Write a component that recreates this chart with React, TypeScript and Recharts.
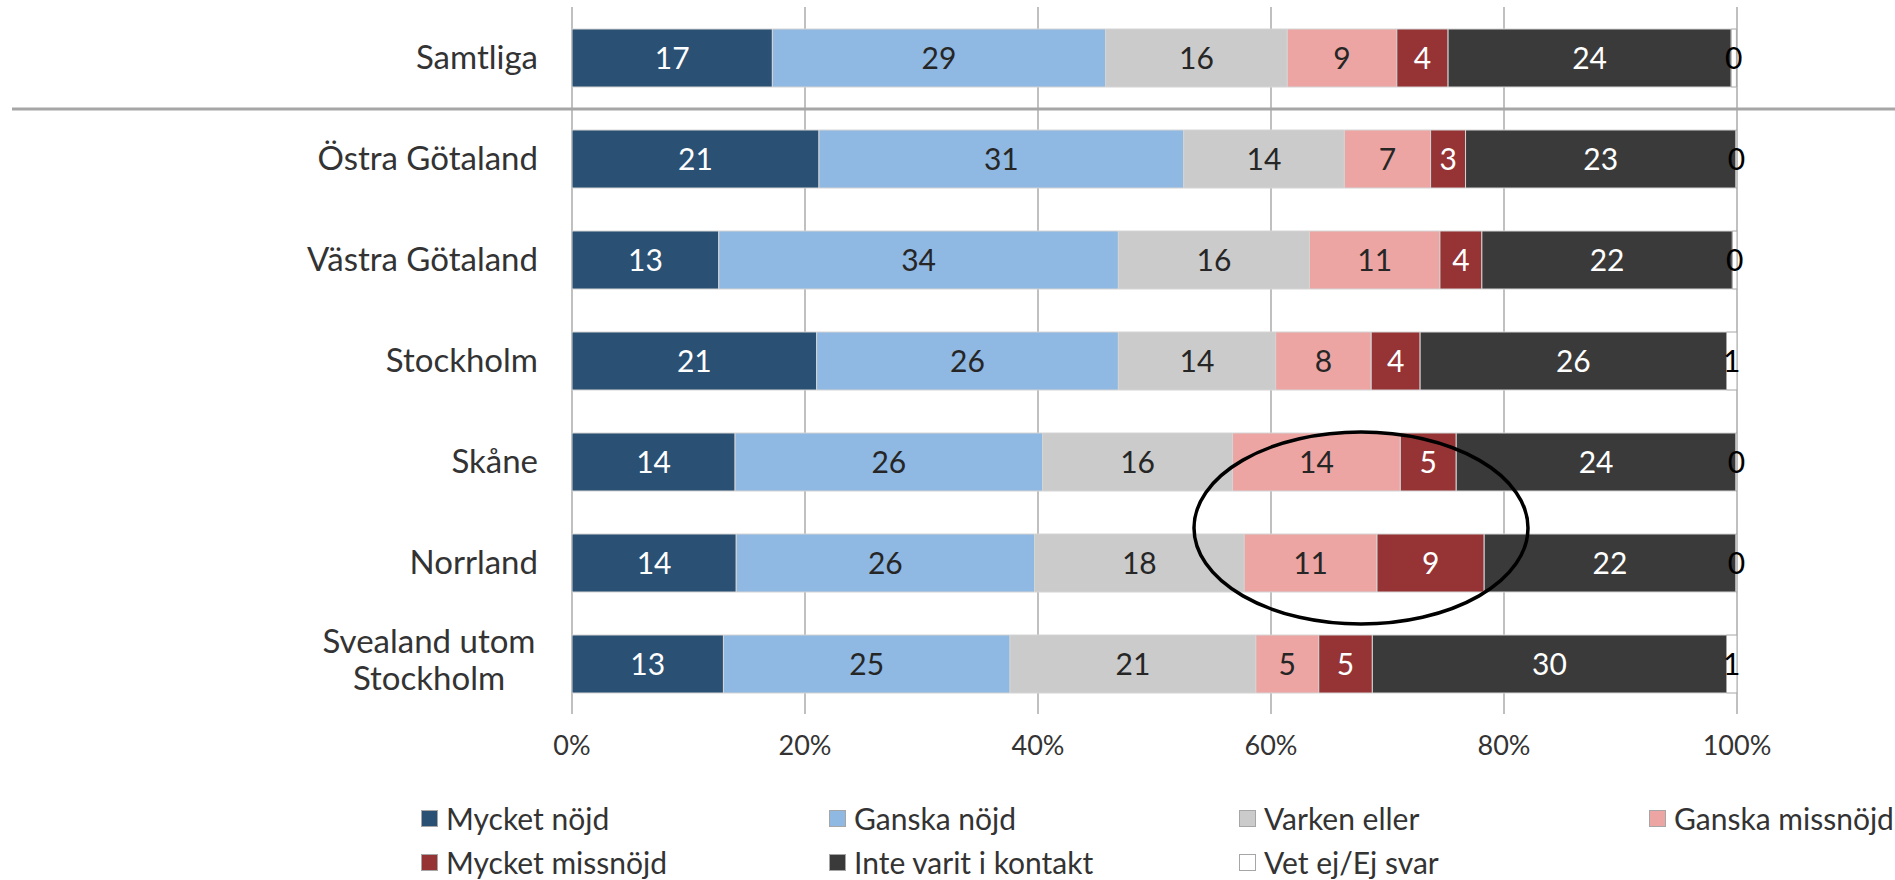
import React from "react";
import { BarChart, Bar, XAxis, YAxis, CartesianGrid, LabelList } from "recharts";

// andel i procent per region (avläst ur originalet, etiketter avrundas)
const regions = [
  "Samtliga",
  "Östra Götaland",
  "Västra Götaland",
  "Stockholm",
  "Skåne",
  "Norrland",
  "Svealand utom Stockholm",
];
const mycketNojd = [17.2, 21.2, 12.6, 21.0, 14.0, 14.1, 13.0];
const ganskaNojd = [28.6, 31.3, 34.3, 25.9, 26.4, 25.6, 24.6];
const varkenEller = [15.6, 13.8, 16.4, 13.5, 16.3, 18.0, 21.1];
const ganskaMissnojd = [9.4, 7.4, 11.2, 8.2, 14.4, 11.4, 5.4];
const mycketMissnojd = [4.4, 3.0, 3.6, 4.2, 4.8, 9.2, 4.6];
const inteKontakt = [24.3, 23.2, 21.5, 26.3, 24.0, 21.6, 30.4];
const vetEj = [0.45, 0.1, 0.4, 0.9, 0.1, 0.1, 0.9];

const xTicks = [0, 20, 40, 60, 80, 100];

const series = [
  { key: "mn", name: "Mycket nöjd", values: mycketNojd, color: "#2a5073", text: "#ffffff" },
  { key: "gn", name: "Ganska nöjd", values: ganskaNojd, color: "#8fb8e2", text: "#262626" },
  { key: "ve", name: "Varken eller", values: varkenEller, color: "#cbcbcb", text: "#262626" },
  { key: "gm", name: "Ganska missnöjd", values: ganskaMissnojd, color: "#eca5a3", text: "#262626" },
  { key: "mm", name: "Mycket missnöjd", values: mycketMissnojd, color: "#953335", text: "#ffffff" },
  { key: "ik", name: "Inte varit i kontakt", values: inteKontakt, color: "#3a3a3a", text: "#ffffff" },
  { key: "ve2", name: "Vet ej/Ej svar", values: vetEj, color: "#ffffff", text: "#000000" },
];

const data = regions.map((name, i) => {
  const row: Record<string, string | number> = { name };
  series.forEach((s) => (row[s.key] = s.values[i]));
  return row;
});

const FONT = "Lato, 'Open Sans', sans-serif";
const legendCols = [421, 829, 1239, 1649];
const legendRows = [818, 862];

function RegionTick({ y, payload }: any) {
  const label: string = payload.value;
  if (label.length > 18) {
    const idx = label.lastIndexOf(" ");
    const lines = [label.slice(0, idx), label.slice(idx + 1)];
    return (
      <g>
        {lines.map((line, i) => (
          <text
            key={line}
            x={429}
            y={y - 22 + i * 37}
            dy="0.35em"
            textAnchor="middle"
            fontSize={33}
            fontFamily={FONT}
            fill="#333"
          >
            {line}
          </text>
        ))}
      </g>
    );
  }
  return (
    <text x={538} y={y} dy="0.35em" textAnchor="end" fontSize={33} fontFamily={FONT} fill="#333">
      {label}
    </text>
  );
}

export default function App() {
  return (
    <div style={{ position: "absolute", left: 0, top: 0, width: 1895, height: 880, background: "#fff", overflow: "hidden" }}>
      <BarChart
        width={1895}
        height={880}
        data={data}
        layout="vertical"
        margin={{ top: 7, right: 158, left: 12, bottom: 126 }}
        barSize={58}
      >
        <CartesianGrid horizontal={false} stroke="#c0c0c0" strokeWidth={2} />
        <XAxis
          type="number"
          domain={[0, 100]}
          allowDataOverflow
          ticks={xTicks}
          tickFormatter={(v) => `${v}%`}
          axisLine={false}
          tickLine={false}
          tickMargin={16}
          height={40}
          tick={{ fontSize: 27, fill: "#333", fontFamily: FONT }}
        />
        <YAxis
          type="category"
          dataKey="name"
          width={560}
          axisLine={false}
          tickLine={false}
          interval={0}
          tick={<RegionTick />}
        />
        {series.map((s) => (
          <Bar
            key={s.key}
            dataKey={s.key}
            name={s.name}
            stackId="a"
            fill={s.color}
            stroke={s.key === "ve2" ? "#a6a6a6" : "#d4d4d4"}
            strokeWidth={1}
            isAnimationActive={false}
          >
            <LabelList
              dataKey={s.key}
              position="center"
              formatter={(v: any) => Math.round(Number(v))}
              fill={s.text}
              fontSize={30}
              fontFamily={FONT}
            />
          </Bar>
        ))}
      </BarChart>

      {/* skiljelinje under Samtliga + markering */}
      <svg
        width={1895}
        height={880}
        style={{ position: "absolute", left: 0, top: 0, pointerEvents: "none" }}
      >
        <line x1={12} x2={1895} y1={109} y2={109} stroke="#a6a6a6" strokeWidth={3} />
        <ellipse cx={1361} cy={528} rx={167} ry={96} fill="none" stroke="#000" strokeWidth={3.5} />
      </svg>

      {series.map((s, i) => {
        const col = i < 4 ? i : i - 4;
        const row = i < 4 ? 0 : 1;
        return (
          <div
            key={s.key}
            style={{
              position: "absolute",
              left: legendCols[col],
              top: legendRows[row] - 18,
              height: 36,
              display: "flex",
              alignItems: "center",
              fontFamily: FONT,
              fontSize: 30,
              color: "#333",
              whiteSpace: "nowrap",
            }}
          >
            <span
              style={{
                display: "inline-block",
                width: 15,
                height: 15,
                background: s.color,
                border: "1px solid #a6a6a6",
                marginRight: 8,
              }}
            />
            {s.name}
          </div>
        );
      })}
    </div>
  );
}
